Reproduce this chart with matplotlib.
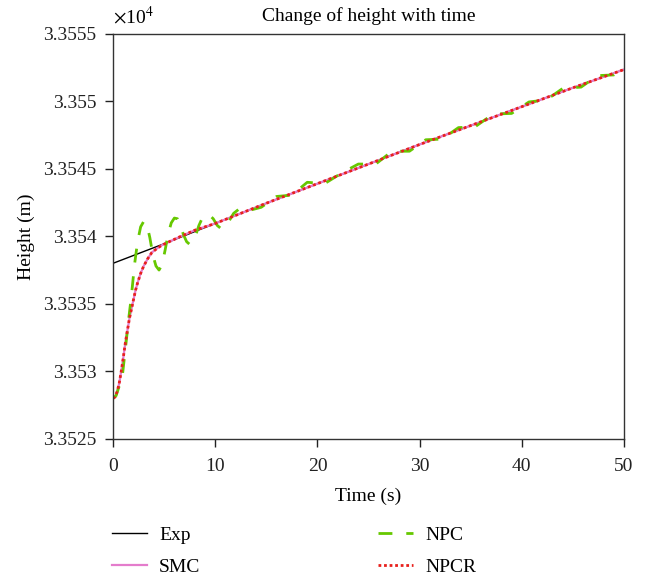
import matplotlib
matplotlib.use("Agg")
import matplotlib.pyplot as plt
from matplotlib.ticker import FuncFormatter

plt.rcParams['font.family'] = ['Liberation Serif', 'DejaVu Serif']
plt.rcParams['mathtext.fontset'] = 'stix'

# Exp reference line
exp_t = [0, 5, 10, 15, 20, 25, 30, 35, 40, 45, 50]
exp_h = [33538.0, 33539.45, 33540.95, 33542.45, 33543.9, 33545.35,
         33546.8, 33548.2, 33549.6, 33551.0, 33552.35]

# SMC / NPCR responses (overlap almost everywhere)
smc_t = [0, 0.2, 0.4, 0.6, 0.8, 1.0, 1.2, 1.4, 1.6, 1.8, 2.0, 2.2, 2.4, 2.7,
         3.0, 3.4, 3.8, 4.3, 4.8, 5.5, 6.5, 8, 10, 15, 20, 25, 30, 35, 40, 45, 50]
smc_h = [33528.0, 33528.1, 33528.5, 33529.1, 33530.0, 33531.0, 33532.1,
         33533.0, 33533.9, 33534.6, 33535.3, 33536.0, 33536.55, 33537.25,
         33537.8, 33538.35, 33538.8, 33539.1, 33539.35, 33539.6, 33539.95,
         33540.45, 33540.95, 33542.45, 33543.9, 33545.35, 33546.8, 33548.2,
         33549.6, 33551.0, 33552.35]
npcr_t = smc_t
npcr_h = [33528.0, 33528.1, 33528.5, 33529.1, 33530.0, 33531.0, 33532.1,
          33533.0, 33533.9, 33534.6, 33535.3, 33536.0, 33536.55, 33537.25,
          33537.8, 33538.35, 33538.8, 33539.1, 33539.35, 33539.6, 33539.95,
          33540.45, 33540.95, 33542.45, 33543.9, 33545.35, 33546.8, 33548.2,
          33549.6, 33551.0, 33552.35]

# NPC response (oscillating)
npc_t = [0.0, 0.3, 0.6, 0.9, 1.2, 1.5, 1.8, 2.1, 2.4, 2.7, 3.0, 3.3, 3.6,
         3.9, 4.2, 4.5, 4.8, 5.1, 5.4, 5.7, 6.0, 6.3, 6.6, 6.9, 7.2, 7.5,
         7.8, 8.1, 8.4, 8.7, 9.0, 9.4, 9.8, 10.2, 10.6, 11.0, 11.4, 11.8,
         12.3, 12.8, 13.5, 14.5, 16.0, 17.5, 19.0, 20.7, 22.4, 24.0, 25.7,
         27.3, 29.0, 30.6, 32.2, 33.8, 35.4, 37.2, 39.0, 40.7, 42.4, 44.0,
         45.8, 47.4, 49.0, 50.0]
npc_h = [33528.0, 33528.2, 33528.9, 33529.6, 33531.6, 33533.7, 33535.6,
         33537.9, 33539.6, 33540.7, 33541.1, 33540.9, 33539.9, 33538.6,
         33537.8, 33537.5, 33537.9, 33539.0, 33540.2, 33541.0, 33541.35,
         33541.3, 33540.8, 33540.1, 33539.6, 33539.4, 33539.6, 33540.1,
         33540.8, 33541.3, 33541.55, 33541.6, 33541.3, 33540.8, 33540.55,
         33540.7, 33541.2, 33541.7, 33542.0, 33542.05, 33541.95, 33542.15,
         33542.95, 33543.05, 33544.0, 33543.9, 33544.7, 33545.35, 33545.35,
         33546.3, 33546.3, 33547.15, 33547.2, 33548.05, 33548.1, 33549.05,
         33549.1, 33549.95, 33550.1, 33550.95, 33551.05, 33551.9, 33551.95,
         33552.5]

fig = plt.figure(figsize=(6.46, 5.82), dpi=100)
ax = fig.add_axes([0.175, 0.246, 0.791, 0.696])

ax.plot(exp_t, exp_h, color='black', lw=1.0, label='Exp')
ax.plot(smc_t, smc_h, color='#e47ccc', lw=1.6, label='SMC')
ax.plot(npc_t, npc_h, color='#66c800', lw=2.0, ls=(0, (5, 5)), label='NPC')
ax.plot(npcr_t, npcr_h, color='#e8201c', lw=2.0, ls=(0, (1, 1)), label='NPCR')

ax.set_xlim(0, 50)
ax.set_ylim(33525, 33555)
ax.set_xticks([0, 10, 20, 30, 40, 50])
ax.set_yticks([33525, 33530, 33535, 33540, 33545, 33550, 33555])
ax.yaxis.set_major_formatter(FuncFormatter(lambda v, p: '%.5g' % (v / 1e4)))
ax.tick_params(labelsize=14, direction='out', length=6, width=1, colors='#222222')
ax.tick_params(axis='x', pad=8)
ax.tick_params(axis='y', pad=6)
for s in ax.spines.values():
    s.set_color('#333333')
    s.set_linewidth(1.0)

ax.set_title('Change of height with time', fontsize=14, pad=9)
ax.set_xlabel('Time (s)', fontsize=14, labelpad=9)
ax.set_ylabel('Height (m)', fontsize=14, labelpad=6)
ax.text(0.0, 1.015, r'$\times$10$^4$', transform=ax.transAxes, fontsize=14,
        ha='left', va='bottom')

fig.legend(loc='lower left', bbox_to_anchor=(0.147, -0.02), ncol=2,
           frameon=False, fontsize=14, handlelength=1.8, handletextpad=0.6,
           columnspacing=9.15, labelspacing=0.75)

fig.savefig('out.png', dpi=100)
